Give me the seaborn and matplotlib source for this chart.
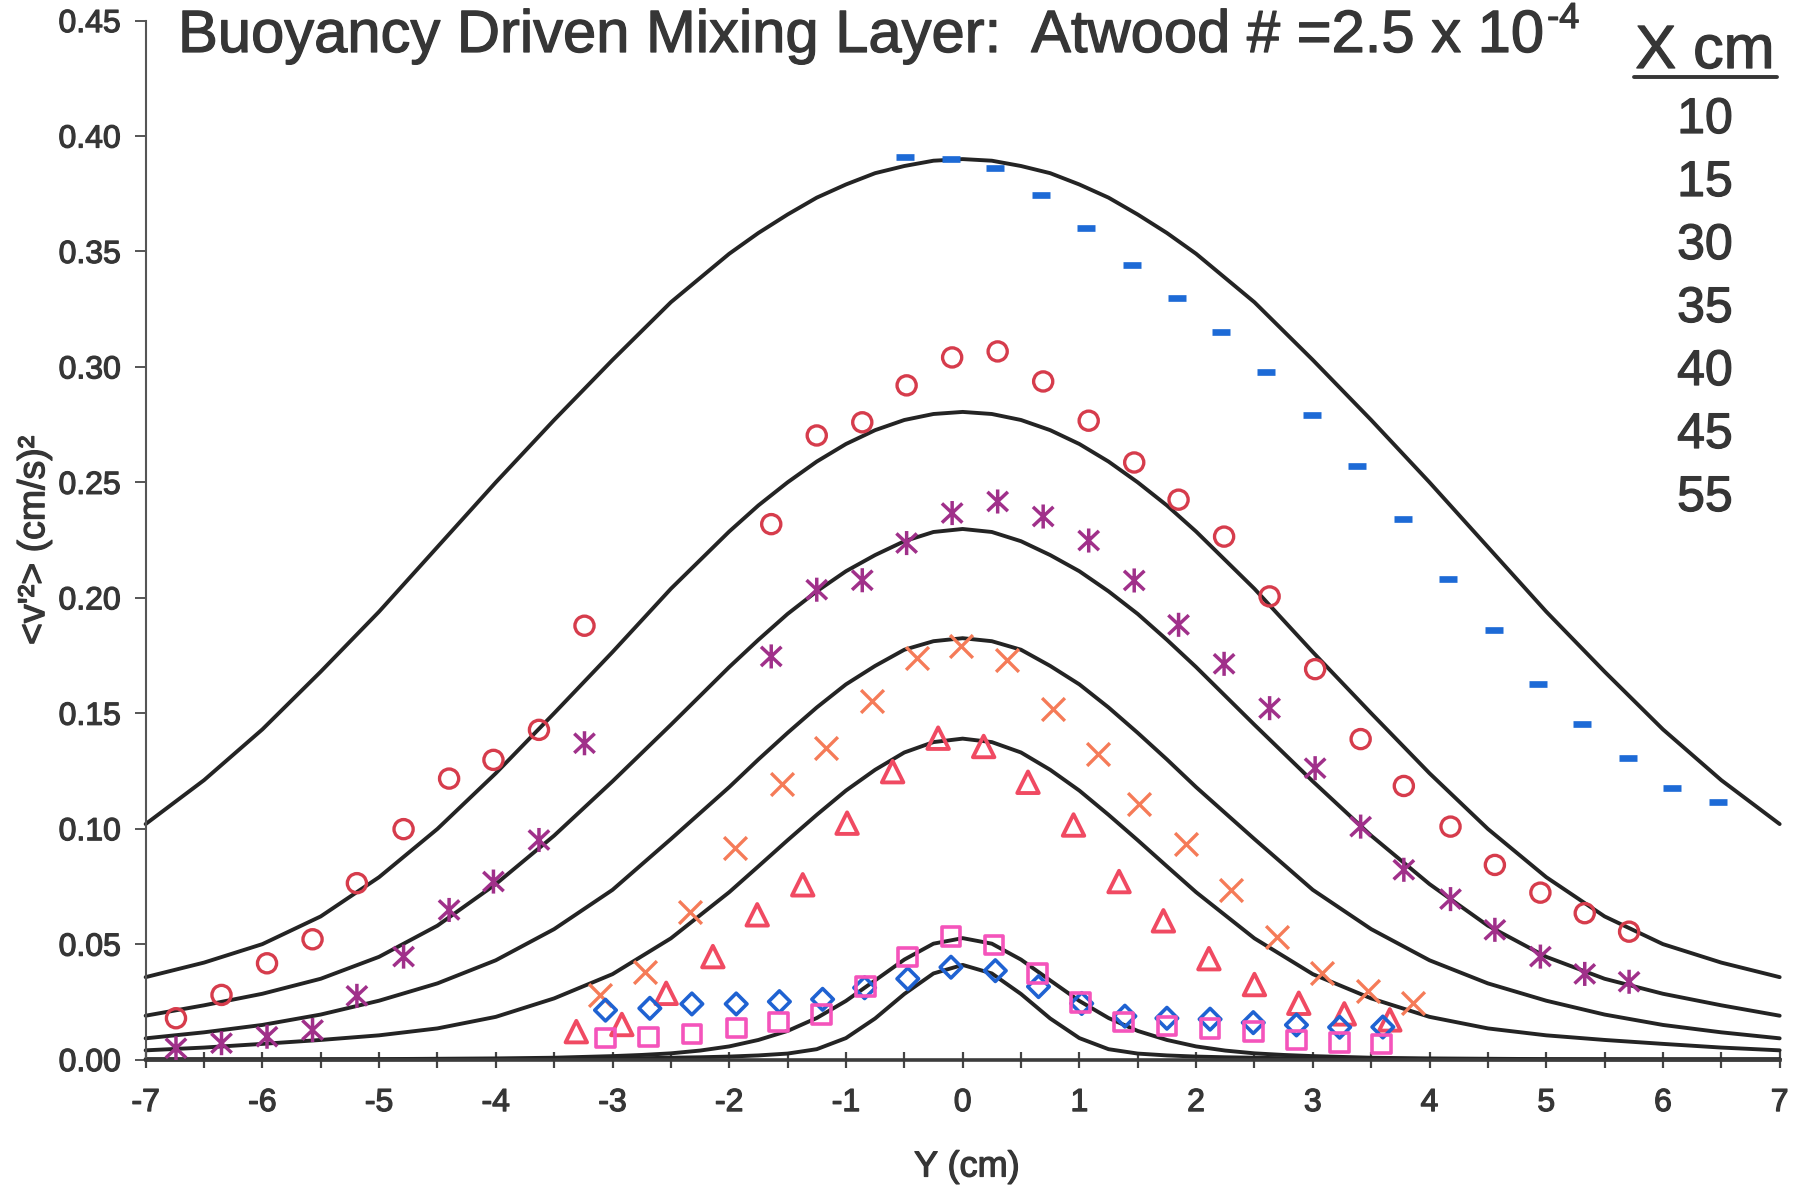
import matplotlib
matplotlib.use("Agg")
import matplotlib.pyplot as plt
import matplotlib.patheffects as pe
import seaborn as sns
from matplotlib.path import Path
from matplotlib.markers import MarkerStyle
from matplotlib.ticker import MultipleLocator, FormatStrFormatter
from matplotlib.lines import Line2D

# ---------------------------------------------------------------------------
# Model profiles <v'^2>(Y), one per downstream station
# ---------------------------------------------------------------------------
y_wide = [-7.0, -6.5, -6.0, -5.5, -5.0, -4.5, -4.0, -3.5, -3.0, -2.5,
          -2.0, -1.75, -1.5, -1.25, -1.0, -0.75, -0.5, -0.25, 0.0, 0.25, 0.5, 0.75, 1.0, 1.25, 1.5, 1.75, 2.0,
          2.5, 3.0, 3.5, 4.0, 4.5, 5.0, 5.5, 6.0, 6.5, 7.0]

fit_10 = [0.102, 0.121, 0.143, 0.168, 0.194, 0.222, 0.250, 0.277, 0.303, 0.328,
          0.349, 0.358, 0.366, 0.3733, 0.379, 0.3839, 0.387, 0.3893, 0.390, 0.3893, 0.387, 0.3839, 0.379, 0.3733,
          0.366, 0.358, 0.349,
          0.328, 0.303, 0.277, 0.250, 0.222, 0.194, 0.168, 0.143, 0.121, 0.102]
fit_15 = [0.0357, 0.042, 0.050, 0.062, 0.079, 0.0999, 0.124, 0.150, 0.1765, 0.2039,
          0.2287, 0.240, 0.250, 0.259, 0.2666, 0.2726, 0.277, 0.2796, 0.2805, 0.2796, 0.277, 0.2726, 0.2666, 0.259,
          0.250, 0.240, 0.2287,
          0.2039, 0.1765, 0.150, 0.124, 0.0999, 0.079, 0.062, 0.050, 0.042, 0.0357]
fit_30 = [0.019, 0.0235, 0.0285, 0.035, 0.0445, 0.058, 0.076, 0.097, 0.1205, 0.145,
          0.170, 0.1818, 0.193, 0.2028, 0.2115, 0.2185, 0.2245, 0.2285, 0.2298, 0.2285, 0.2245, 0.2185, 0.2115,
          0.2028, 0.193, 0.1818, 0.170,
          0.145, 0.1205, 0.097, 0.076, 0.058, 0.0445, 0.035, 0.0285, 0.0235, 0.019]
fit_35 = [0.0092, 0.0118, 0.015, 0.0195, 0.0255, 0.033, 0.043, 0.0565, 0.0735, 0.0955,
          0.118, 0.130, 0.1415, 0.1525, 0.1625, 0.1705, 0.1775, 0.1812, 0.1825, 0.1812, 0.1775, 0.1705, 0.1625,
          0.1525, 0.1415, 0.130, 0.118,
          0.0955, 0.0735, 0.0565, 0.043, 0.033, 0.0255, 0.0195, 0.015, 0.0118, 0.0092]
fit_40 = [0.0040, 0.0052, 0.0068, 0.0085, 0.0105, 0.0135, 0.0185, 0.0265, 0.037, 0.0525,
          0.0725, 0.0837, 0.095, 0.106, 0.1165, 0.1255, 0.133, 0.1375, 0.139, 0.1375, 0.133, 0.1255, 0.1165,
          0.106, 0.095, 0.0837, 0.0725,
          0.0525, 0.037, 0.0265, 0.0185, 0.0135, 0.0105, 0.0085, 0.0068, 0.0052, 0.0040]

y_narrow = [-7.0, -6.0, -5.0, -4.0, -3.5, -3.0, -2.75, -2.5, -2.25, -2.0, -1.75, -1.5, -1.25, -1.0, -0.75, -0.5, -0.25,
            0.0, 0.25, 0.5, 0.75, 1.0, 1.25, 1.5, 1.75, 2.0, 2.25, 2.5, 2.75, 3.0, 3.5, 4.0, 5.0, 6.0, 7.0]

fit_45 = [0.0001, 0.0001, 0.0002, 0.0005, 0.0008, 0.0015, 0.0020, 0.0027, 0.0039, 0.0057, 0.0085, 0.0124, 0.0180,
          0.0254, 0.0343, 0.0433, 0.0502, 0.0526, 0.0502, 0.0433, 0.0343, 0.0254, 0.0180, 0.0124, 0.0085, 0.0057,
          0.0039, 0.0027, 0.0020, 0.0015, 0.0008, 0.0005, 0.0002, 0.0001, 0.0001]
fit_55 = [0.0001, 0.0001, 0.0001, 0.0002, 0.0003, 0.0005, 0.0006, 0.0008, 0.0010, 0.0013, 0.0018, 0.0026, 0.0045,
          0.0093, 0.0178, 0.0284, 0.0373, 0.0410, 0.0373, 0.0284, 0.0178, 0.0093, 0.0045, 0.0026, 0.0018, 0.0013,
          0.0010, 0.0008, 0.0006, 0.0005, 0.0003, 0.0002, 0.0001, 0.0001, 0.0001]

# ---------------------------------------------------------------------------
# Measured profiles
# ---------------------------------------------------------------------------
y_x10 = [-0.49, -0.10, 0.28, 0.67, 1.06, 1.45, 1.84, 2.21, 2.60, 2.99, 3.38, 3.77, 4.16, 4.55, 4.93, 5.31, 5.70, 6.08, 6.47]
v_x10 = [0.391, 0.390, 0.386, 0.3745, 0.360, 0.344, 0.330, 0.315, 0.298, 0.279, 0.257, 0.234, 0.208, 0.186,
         0.1626, 0.1455, 0.1308, 0.1178, 0.1117]

y_x15 = [-6.74, -6.35, -5.96, -5.57, -5.19, -4.79, -4.40, -4.02, -3.63, -3.24, -1.64, -1.25, -0.86, -0.48, -0.09,
         0.30, 0.69, 1.08, 1.47, 1.85, 2.24, 2.63, 3.02, 3.41, 3.78, 4.18, 4.56, 4.95, 5.33, 5.71]
v_x15 = [0.0179, 0.0280, 0.0417, 0.0521, 0.0764, 0.0998, 0.1217, 0.1298, 0.1428, 0.1879, 0.2319, 0.2703, 0.2760,
         0.2920, 0.3041, 0.3067, 0.2937, 0.2767, 0.2586, 0.2425, 0.2265, 0.2006, 0.1691, 0.1388, 0.1185, 0.1009,
         0.0843, 0.0723, 0.0634, 0.0554]

y_x30 = y_x15
v_x30 = [0.0049, 0.0071, 0.0099, 0.0128, 0.0276, 0.0446, 0.0648, 0.0771, 0.0951, 0.1370, 0.1746, 0.2035, 0.2076,
         0.2237, 0.2367, 0.2417, 0.2352, 0.2248, 0.2075, 0.1883, 0.1714, 0.1522, 0.1262, 0.1009, 0.0822, 0.0695,
         0.0562, 0.0446, 0.0371, 0.0337]

y_x35 = [-3.11, -2.72, -2.34, -1.95, -1.55, -1.17, -0.78, -0.39, -0.01, 0.38, 0.77, 1.16, 1.51, 1.91, 2.30, 2.69,
         3.08, 3.47, 3.86]
v_x35 = [0.0280, 0.0381, 0.0641, 0.0918, 0.1193, 0.1351, 0.1551, 0.1739, 0.1792, 0.1731, 0.1518, 0.1324, 0.1105,
         0.0934, 0.0735, 0.0530, 0.0377, 0.0299, 0.0247]

y_x40 = [-3.31, -2.92, -2.54, -2.14, -1.76, -1.37, -0.99, -0.60, -0.21, 0.18, 0.56, 0.95, 1.34, 1.72, 2.11, 2.50,
         2.88, 3.27, 3.66]
v_x40 = [0.0121, 0.0152, 0.0287, 0.0446, 0.0627, 0.0757, 0.1024, 0.1247, 0.1392, 0.1356, 0.1201, 0.1016, 0.0771,
         0.0601, 0.0437, 0.0325, 0.0244, 0.0198, 0.0172]

y_x45 = [-3.06, -2.68, -2.32, -1.94, -1.57, -1.20, -0.84, -0.47, -0.10, 0.28, 0.65, 1.02, 1.39, 1.75, 2.12, 2.49,
         2.86, 3.23, 3.60]
v_x45 = [0.0214, 0.0222, 0.0241, 0.0241, 0.0251, 0.0261, 0.0311, 0.0350, 0.0400, 0.0385, 0.0316, 0.0243, 0.0188,
         0.0179, 0.0175, 0.0160, 0.0150, 0.0140, 0.0141]

y_x55 = [-3.06, -2.69, -2.32, -1.94, -1.58, -1.21, -0.83, -0.47, -0.10, 0.27, 0.64, 1.01, 1.38, 1.75, 2.12, 2.49,
         2.86, 3.23, 3.59]
v_x55 = [0.0094, 0.0097, 0.0111, 0.0136, 0.0162, 0.0196, 0.0316, 0.0445, 0.0533, 0.0497, 0.0373, 0.0248, 0.0162,
         0.0146, 0.0134, 0.0122, 0.0085, 0.0073, 0.0068]

stations = ["10", "15", "30", "35", "40", "45", "55"]

# ---------------------------------------------------------------------------
# Style
# ---------------------------------------------------------------------------
sns.set_theme(style="ticks")
plt.rcParams["font.family"] = ["Liberation Sans", "DejaVu Sans"]
plt.rcParams["axes.unicode_minus"] = False

INK = "#363636"
CURVE = "#242424"
heavy = [pe.withStroke(linewidth=0.9, foreground=INK)]

asterisk = Path([(0, -1), (0, 1), (-0.85, -0.8), (0.85, 0.8), (-0.85, 0.8), (0.85, -0.8)],
                [Path.MOVETO, Path.LINETO, Path.MOVETO, Path.LINETO, Path.MOVETO, Path.LINETO])

fig = plt.figure(figsize=(17.98, 11.88), dpi=100)
ax = fig.add_axes([0.081, 0.1081, 0.9088, 0.8746])

# model curves
for yy, vv in [(y_wide, fit_10), (y_wide, fit_15), (y_wide, fit_30), (y_wide, fit_35),
               (y_wide, fit_40), (y_narrow, fit_45), (y_narrow, fit_55)]:
    sns.lineplot(x=yy, y=vv, ax=ax, color=CURVE, linewidth=2.8, estimator=None,
                 sort=False, legend=False, zorder=2, clip_on=False)

# measurements
sns.scatterplot(x=y_x10, y=v_x10, ax=ax, marker="_", s=150, color="#1d6ad6",
                linewidth=4.8, legend=False, zorder=3)
sns.scatterplot(x=y_x15, y=v_x15, ax=ax, marker="o", s=190, color="#d63c4c",
                facecolor="none", edgecolor="#d63c4c", linewidth=2.4, legend=False, zorder=3)
sns.scatterplot(x=y_x30, y=v_x30, ax=ax, marker=MarkerStyle(asterisk), s=300, color="#a0308a",
                facecolor="none", edgecolor="#a0308a", linewidth=2.5, legend=False, zorder=3)
sns.scatterplot(x=y_x35, y=v_x35, ax=ax, marker="x", s=270, color="#f57b58",
                linewidth=2.4, legend=False, zorder=3)
sns.scatterplot(x=y_x40, y=v_x40, ax=ax, marker="^", s=240, color="#f04a62",
                facecolor="none", edgecolor="#f04a62", linewidth=2.8, legend=False, zorder=3)
sns.scatterplot(x=y_x45, y=v_x45, ax=ax, marker="D", s=120, color="#1f62d2",
                facecolor="none", edgecolor="#1f62d2", linewidth=2.6, legend=False, zorder=3)
sns.scatterplot(x=y_x55, y=v_x55, ax=ax, marker="s", s=180, color="#f454bb",
                facecolor="none", edgecolor="#f454bb", linewidth=2.6, legend=False, zorder=3)

# axes
ax.set_xlim(-7, 7)
ax.set_ylim(0, 0.45)
ax.xaxis.set_major_locator(MultipleLocator(1))
ax.xaxis.set_minor_locator(MultipleLocator(0.5))
ax.yaxis.set_major_locator(MultipleLocator(0.05))
ax.yaxis.set_major_formatter(FormatStrFormatter("%.2f"))
ax.set_xlabel("")
ax.set_ylabel("")
sns.despine(ax=ax)
ax.spines["left"].set_linewidth(1.5)
ax.spines["left"].set_color("#555555")
ax.spines["bottom"].set_linewidth(2.6)
ax.spines["bottom"].set_color("#3c3c3c")
ax.tick_params(axis="x", which="both", direction="inout", length=11, width=1.6,
               color="#444444", labelsize=23, labelcolor=INK, pad=15)
ax.tick_params(axis="y", which="major", direction="out", length=8, width=1.4,
               color="#555555", labelsize=23, labelcolor=INK, pad=10)
for lab in ax.get_xticklabels() + ax.get_yticklabels():
    lab.set_path_effects(heavy)
ax.set_facecolor("white")
fig.patch.set_facecolor("white")

# axis titles
fig.text(0.5378, 0.0177, "Y (cm)", ha="center", va="center", fontsize=26, color=INK,
         path_effects=heavy)
fig.text(0.019, 0.5454, "<v'²> (cm/s)²", ha="center", va="center", rotation=90,
         fontsize=27, color=INK, path_effects=heavy)

# title with superscript exponent
title = fig.text(0.099, 1 - 52 / 1188, "Buoyancy Driven Mixing Layer:  Atwood # =2.5 x 10",
                 ha="left", va="baseline", fontsize=43, color=INK, path_effects=heavy)
fig.canvas.draw()
bb = title.get_window_extent(renderer=fig.canvas.get_renderer())
fig.text(bb.x1 / fig.bbox.width + 0.001, 1 - 28 / 1188, "-4", ha="left", va="baseline",
         fontsize=26, color=INK, path_effects=heavy)

# station key
fig.text(1705 / 1798, 1 - 68 / 1188, "X cm", ha="center", va="baseline", fontsize=44, color=INK,
         path_effects=heavy)
fig.add_artist(Line2D([1634 / 1798, 1777 / 1798], [1 - 77 / 1188, 1 - 77 / 1188],
                      transform=fig.transFigure, color=INK, linewidth=2.8))
for i, st in enumerate(stations):
    fig.text(1705 / 1798, 1 - (133 + 63 * i) / 1188, st, ha="center", va="baseline",
             fontsize=36, color=INK, path_effects=heavy)

fig.savefig("out.png", dpi=100, facecolor="white")
